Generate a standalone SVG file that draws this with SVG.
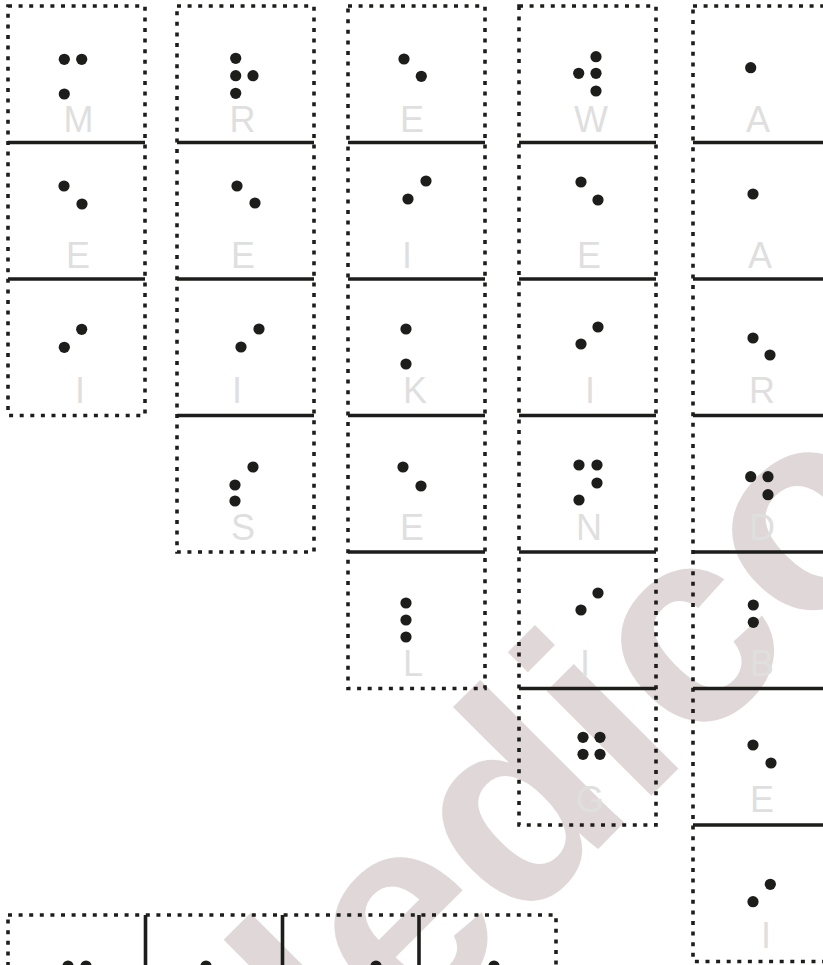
<svg xmlns="http://www.w3.org/2000/svg" width="823" height="965" viewBox="0 0 823 965">
<style>
.wm{font-family:"Liberation Sans",Arial,sans-serif;font-weight:bold;font-size:280px;fill:#e0d8d8}
.box{fill:none;stroke:#1d1d1b;stroke-width:3.6;stroke-dasharray:4 6.6}
.sep{stroke:#1d1d1b;stroke-width:3.6}
.lbl{font-family:"Liberation Sans",Arial,sans-serif;font-size:36px;fill:#dfdfdf;text-anchor:middle}
circle{fill:#1d1d1b}
</style>
<rect width="823" height="965" fill="#ffffff"/>
<g id="watermark" transform="translate(406.4,1040.6) rotate(-45)">
<rect x="-58" y="-200.5" width="38" height="260" fill="#e0d8d8"/>
<text class="wm" x="0" y="0">edico</text>
</g>
<g id="connectors">
<line class="sep" x1="8" y1="142.5" x2="145" y2="142.5"/>
<line class="sep" x1="8" y1="279" x2="145" y2="279"/>
<line class="sep" x1="177" y1="142.5" x2="314" y2="142.5"/>
<line class="sep" x1="177" y1="279" x2="314" y2="279"/>
<line class="sep" x1="177" y1="415.5" x2="314" y2="415.5"/>
<line class="sep" x1="348" y1="142.5" x2="485" y2="142.5"/>
<line class="sep" x1="348" y1="279" x2="485" y2="279"/>
<line class="sep" x1="348" y1="415.5" x2="485" y2="415.5"/>
<line class="sep" x1="348" y1="552" x2="485" y2="552"/>
<line class="sep" x1="519" y1="142.5" x2="656" y2="142.5"/>
<line class="sep" x1="519" y1="279" x2="656" y2="279"/>
<line class="sep" x1="519" y1="415.5" x2="656" y2="415.5"/>
<line class="sep" x1="519" y1="552" x2="656" y2="552"/>
<line class="sep" x1="519" y1="688.5" x2="656" y2="688.5"/>
<line class="sep" x1="693" y1="142.5" x2="823" y2="142.5"/>
<line class="sep" x1="693" y1="279" x2="823" y2="279"/>
<line class="sep" x1="693" y1="415.5" x2="823" y2="415.5"/>
<line class="sep" x1="693" y1="552" x2="823" y2="552"/>
<line class="sep" x1="693" y1="688.5" x2="823" y2="688.5"/>
<line class="sep" x1="693" y1="825" x2="823" y2="825"/>
<line class="sep" x1="145.5" y1="915" x2="145.5" y2="965"/>
<line class="sep" x1="282.5" y1="915" x2="282.5" y2="965"/>
<line class="sep" x1="419" y1="915" x2="419" y2="965"/>
</g>
<g id="col1">
<rect class="box" x="8" y="6" width="137" height="409.5"/>
<g id="c1-M"><circle cx="64.3" cy="59.3" r="5.6"/><circle cx="81.7" cy="59.3" r="5.6"/><circle cx="64.3" cy="94" r="5.6"/><text class="lbl" x="78.5" y="132">M</text></g>
<g id="c1-E"><circle cx="64" cy="186" r="5.6"/><circle cx="82" cy="204" r="5.6"/><text class="lbl" x="78" y="268">E</text></g>
<g id="c1-I"><circle cx="81.7" cy="329.3" r="5.6"/><circle cx="64.3" cy="347.3" r="5.6"/><text class="lbl" x="80" y="403">I</text></g>
</g>
<g id="col2">
<rect class="box" x="177" y="6" width="137" height="546"/>
<g id="c2-R"><circle cx="235.7" cy="58.3" r="5.6"/><circle cx="235.7" cy="75.7" r="5.6"/><circle cx="253" cy="75.7" r="5.6"/><circle cx="235.7" cy="93.3" r="5.6"/><text class="lbl" x="242.5" y="132">R</text></g>
<g id="c2-E"><circle cx="237" cy="186" r="5.6"/><circle cx="255" cy="203" r="5.6"/><text class="lbl" x="243" y="268">E</text></g>
<g id="c2-I"><circle cx="259" cy="329" r="5.6"/><circle cx="241" cy="347" r="5.6"/><text class="lbl" x="237" y="403">I</text></g>
<g id="c2-S"><circle cx="253" cy="467" r="5.6"/><circle cx="235" cy="485" r="5.6"/><circle cx="235" cy="501" r="5.6"/><text class="lbl" x="243" y="540">S</text></g>
</g>
<g id="col3">
<rect class="box" x="348" y="6" width="137" height="682.5"/>
<g id="c3-E"><circle cx="404" cy="59" r="5.6"/><circle cx="421.3" cy="76.3" r="5.6"/><text class="lbl" x="412" y="132">E</text></g>
<g id="c3-I"><circle cx="426" cy="181" r="5.6"/><circle cx="408" cy="199" r="5.6"/><text class="lbl" x="407" y="268">I</text></g>
<g id="c3-K"><circle cx="406" cy="329" r="5.6"/><circle cx="406" cy="364" r="5.6"/><text class="lbl" x="415" y="403">K</text></g>
<g id="c3-E2"><circle cx="403" cy="467" r="5.6"/><circle cx="421" cy="486" r="5.6"/><text class="lbl" x="412" y="540">E</text></g>
<g id="c3-L"><circle cx="406" cy="603" r="5.6"/><circle cx="406" cy="620" r="5.6"/><circle cx="406" cy="637" r="5.6"/><text class="lbl" x="413" y="676">L</text></g>
</g>
<g id="col4">
<rect class="box" x="519" y="6" width="137" height="819"/>
<g id="c4-W"><circle cx="596" cy="56.7" r="5.6"/><circle cx="578.7" cy="73.3" r="5.6"/><circle cx="596" cy="73.3" r="5.6"/><circle cx="596" cy="91" r="5.6"/><text class="lbl" x="591" y="132">W</text></g>
<g id="c4-E"><circle cx="581" cy="182" r="5.6"/><circle cx="598" cy="200" r="5.6"/><text class="lbl" x="589" y="268">E</text></g>
<g id="c4-I"><circle cx="598" cy="327" r="5.6"/><circle cx="581" cy="344" r="5.6"/><text class="lbl" x="590" y="403">I</text></g>
<g id="c4-N"><circle cx="579" cy="465" r="5.6"/><circle cx="597" cy="465" r="5.6"/><circle cx="597" cy="483" r="5.6"/><circle cx="579" cy="500" r="5.6"/><text class="lbl" x="589" y="540">N</text></g>
<g id="c4-I2"><circle cx="598" cy="593" r="5.6"/><circle cx="581" cy="610" r="5.6"/><text class="lbl" x="585" y="676">I</text></g>
<g id="c4-G"><circle cx="583" cy="737.3" r="5.6"/><circle cx="600" cy="737.3" r="5.6"/><circle cx="583" cy="754.3" r="5.6"/><circle cx="600" cy="754.3" r="5.6"/><text class="lbl" x="590" y="812">G</text></g>
</g>
<g id="col5">
<rect class="box" x="693" y="6" width="140" height="955.5"/>
<g id="c5-A"><circle cx="750.7" cy="67.7" r="5.6"/><text class="lbl" x="758" y="132">A</text></g>
<g id="c5-A2"><circle cx="753" cy="194" r="5.6"/><text class="lbl" x="760" y="268">A</text></g>
<g id="c5-R"><circle cx="753" cy="338" r="5.6"/><circle cx="770" cy="355" r="5.6"/><text class="lbl" x="762" y="403">R</text></g>
<g id="c5-D"><circle cx="750.7" cy="476.7" r="5.6"/><circle cx="768" cy="476.7" r="5.6"/><circle cx="768" cy="494.7" r="5.6"/><text class="lbl" x="762" y="540">D</text></g>
<g id="c5-B"><circle cx="753.3" cy="605" r="5.6"/><circle cx="753.3" cy="622.3" r="5.6"/><text class="lbl" x="762" y="676">B</text></g>
<g id="c5-E"><circle cx="753" cy="745" r="5.6"/><circle cx="771" cy="763" r="5.6"/><text class="lbl" x="762" y="812">E</text></g>
<g id="c5-I"><circle cx="770.3" cy="884.3" r="5.6"/><circle cx="753" cy="901.7" r="5.6"/><text class="lbl" x="766" y="948">I</text></g>
</g>
<g id="row-bottom">
<rect class="box" x="8" y="915" width="548" height="140"/>
<g id="b1"><circle cx="68" cy="966" r="5.6"/><circle cx="86" cy="966" r="5.6"/></g>
<g id="b2"><circle cx="206" cy="966" r="5.6"/></g>
<g id="b3"><circle cx="376" cy="966" r="5.6"/></g>
<g id="b4"><circle cx="494" cy="966" r="5.6"/></g>
</g>
</svg>
